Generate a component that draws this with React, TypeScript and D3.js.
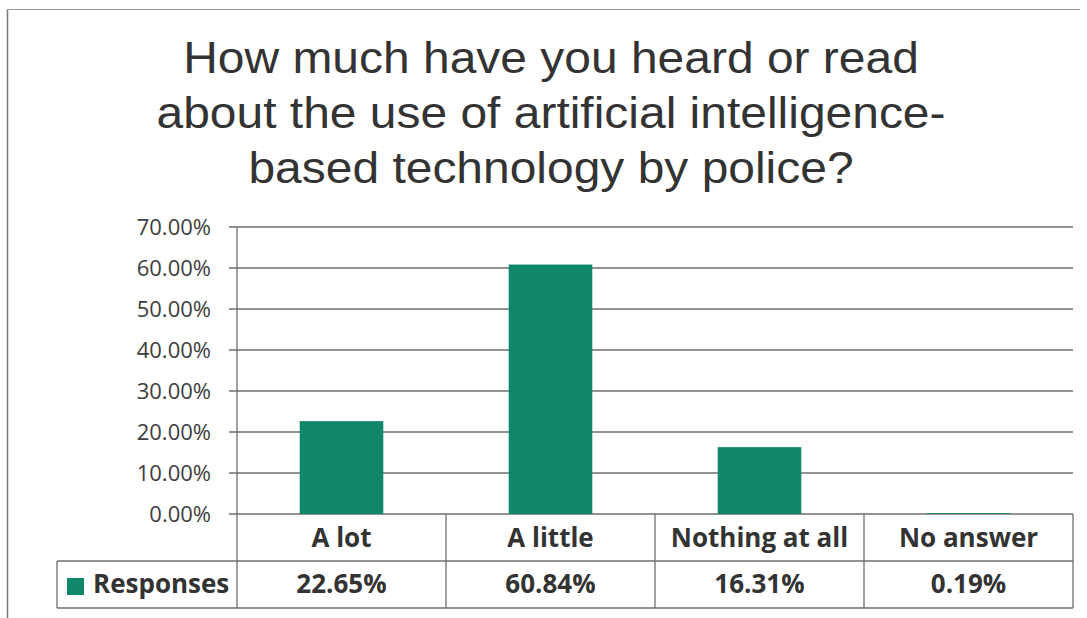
import React from "react";
import * as d3 from "d3";

const titleLines = [
  "How much have you heard or read",
  "about the use of artificial intelligence-",
  "based technology by police?",
];
const categories = ["A lot", "A little", "Nothing at all", "No answer"];
const values = [0.2265, 0.6084, 0.1631, 0.0019];
const valueLabels = ["22.65%", "60.84%", "16.31%", "0.19%"];
const yTicks = [0, 0.1, 0.2, 0.3, 0.4, 0.5, 0.6, 0.7];
const seriesName = "Responses";

const W = 1087;
const H = 618;
const barColor = "#0f8768";
const textColor = "#333333";
const lineColor = "#6e6e73";
const bodyFont = "'Open Sans', Lato, sans-serif";

export default function App() {
  const y = d3.scaleLinear().domain([0, 0.7]).range([514, 227]);
  const x = d3.scaleBand<string>().domain(categories).range([237, 1073]).padding(0);
  const bw = x.bandwidth();
  const barW = bw * 0.4;
  const rowTop = y(0);
  const rowMid = 561;
  const rowBot = 608;
  const legendLeft = 57;
  const fmt = d3.format(".2%");
  const titleCx = 551;

  return (
    <svg
      width={W}
      height={H}
      style={{ position: "absolute", left: 0, top: 0, background: "#fff" }}
    >
      {/* outer border */}
      <line x1={7.5} y1={9.5} x2={1080} y2={9.5} stroke="#9a9a9a" strokeWidth={1.2} />
      <line x1={7.5} y1={9.5} x2={7.5} y2={H} stroke="#7a7a7a" strokeWidth={1.5} />

      {/* title */}
      <g transform={`translate(${titleCx},0) scale(1.09,1)`}>
        {titleLines.map((t, i) => (
          <text
            key={i}
            x={0}
            y={73 + i * 55}
            textAnchor="middle"
            fontFamily="'Liberation Sans', Arial, sans-serif"
            fontSize={44}
            fill="#333333"
          >
            {t}
          </text>
        ))}
      </g>

      {/* gridlines and y ticks */}
      {yTicks.map((t) => (
        <g key={t}>
          <line x1={229} x2={1073} y1={y(t)} y2={y(t)} stroke={lineColor} strokeWidth={1.3} />
          <text
            x={211}
            y={y(t)}
            dy="0.35em"
            textAnchor="end"
            fontFamily={bodyFont}
            fontSize={22}
            fill="#3d3d3d"
          >
            {fmt(t)}
          </text>
        </g>
      ))}

      {/* bars */}
      {categories.map((c, i) => (
        <rect
          key={c}
          x={(x(c) as number) + (bw - barW) / 2}
          y={y(values[i])}
          width={barW}
          height={y(0) - y(values[i])}
          fill={barColor}
        />
      ))}

      {/* y axis line */}
      <line x1={237} x2={237} y1={y(0.7)} y2={rowBot} stroke={lineColor} strokeWidth={1.3} />

      {/* data table */}
      {categories.map((c) => (
        <line
          key={c}
          x1={(x(c) as number) + bw}
          x2={(x(c) as number) + bw}
          y1={rowTop}
          y2={rowBot}
          stroke={lineColor}
          strokeWidth={1.3}
        />
      ))}
      <line x1={legendLeft} x2={1073} y1={rowMid} y2={rowMid} stroke={lineColor} strokeWidth={1.3} />
      <line x1={legendLeft} x2={1073} y1={rowBot} y2={rowBot} stroke={lineColor} strokeWidth={1.3} />
      <line x1={legendLeft} x2={legendLeft} y1={rowMid} y2={rowBot} stroke={lineColor} strokeWidth={1.3} />

      {categories.map((c, i) => (
        <g key={c}>
          <text
            x={(x(c) as number) + bw / 2}
            y={547}
            textAnchor="middle"
            fontFamily={bodyFont}
            fontWeight="bold"
            fontSize={26}
            fill={textColor}
          >
            {c}
          </text>
          <text
            x={(x(c) as number) + bw / 2}
            y={593}
            textAnchor="middle"
            fontFamily={bodyFont}
            fontWeight="bold"
            fontSize={26}
            fill={textColor}
          >
            {valueLabels[i]}
          </text>
        </g>
      ))}

      {/* legend cell */}
      <rect x={67} y={578} width={17} height={17} fill={barColor} />
      <text
        x={93}
        y={593}
        fontFamily={bodyFont}
        fontWeight="bold"
        fontSize={26}
        fill={textColor}
      >
        {seriesName}
      </text>
    </svg>
  );
}
